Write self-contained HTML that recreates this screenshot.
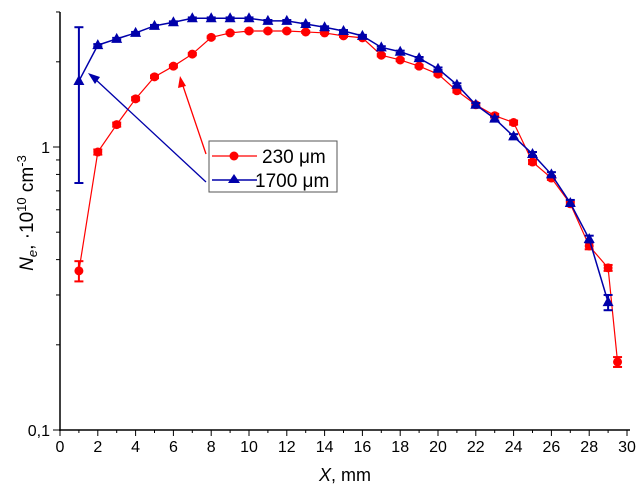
<!DOCTYPE html>
<html><head><meta charset="utf-8"><style>
body{margin:0;background:#fff}
svg{display:block;font-family:"Liberation Sans",Arial,sans-serif}
</style></head><body>
<svg id="chart" width="641" height="491">
<g id="axes"></g>
<g id="series"></g>
<g>
<line x1="206" y1="154" x2="182" y2="83" stroke="#f00" stroke-width="1.3"/>
<polygon points="180,76 178,88 186,86" fill="#f00"/>
<line x1="206" y1="182" x2="94" y2="78" stroke="#00a" stroke-width="1.3"/>
<polygon points="88,73 95,84 100,77" fill="#00a"/>
</g>
<g>
<rect x="209" y="141" width="128" height="51" fill="#fff" stroke="#555" stroke-width="1"/>
<line x1="212" y1="156" x2="257" y2="156" stroke="#f00" stroke-width="1.3"/>
<circle cx="234" cy="156" r="4.5" fill="#f00"/>
<text x="262" y="163" font-size="19">230 μm</text>
<line x1="212" y1="180" x2="257" y2="180" stroke="#00a" stroke-width="1.5"/>
<polygon points="234,174 228,183 240,183" fill="#00a"/>
<text x="255" y="187" font-size="19">1700 μm</text>
</g>
<text x="345" y="481" font-size="18" text-anchor="middle"><tspan font-style="italic">X</tspan>, mm</text>
<text transform="translate(33,213) rotate(-90)" font-size="19" text-anchor="middle"><tspan font-style="italic">N</tspan><tspan font-size="13" dy="4" font-style="italic">e</tspan><tspan dy="-4">, ·10</tspan><tspan font-size="13" dy="-7">10</tspan><tspan dy="7"> cm</tspan><tspan font-size="13" dy="-7">-3</tspan></text>
</svg>
<script>
const redX=[1,2,3,4,5,6,7,8,9,10,11,12,13,14,15,16,17,18,19,20,21,22,23,24,25,26,27,28,29,29.5];
const redY=[0.365,0.96,1.20,1.48,1.77,1.93,2.13,2.44,2.53,2.57,2.57,2.57,2.55,2.53,2.47,2.43,2.11,2.03,1.93,1.81,1.58,1.41,1.29,1.22,0.885,0.777,0.63,0.447,0.374,0.174];
const blueX=[1,2,3,4,5,6,7,8,9,10,11,12,13,14,15,16,17,18,19,20,21,22,23,24,25,26,27,28,29];
const blueY=[1.71,2.29,2.41,2.53,2.68,2.76,2.85,2.85,2.85,2.85,2.79,2.79,2.72,2.65,2.57,2.47,2.25,2.17,2.06,1.89,1.66,1.41,1.26,1.09,0.945,0.80,0.634,0.473,0.283];
const redErrLo=[0.335,0.94,1.18,1.46,1.75,1.91,2.11,2.42,2.51,2.55,2.55,2.55,2.53,2.51,2.45,2.41,2.09,2.01,1.91,1.79,1.56,1.39,1.27,1.20,0.87,0.765,0.62,0.435,0.365,0.167];
const redErrHi=[0.395,0.98,1.22,1.50,1.79,1.95,2.15,2.46,2.55,2.59,2.59,2.59,2.57,2.55,2.49,2.45,2.13,2.05,1.95,1.83,1.60,1.43,1.31,1.24,0.90,0.79,0.64,0.46,0.383,0.181];
const blueErrLo=[0.746,2.27,2.39,2.51,2.66,2.74,2.83,2.83,2.83,2.83,2.77,2.77,2.70,2.63,2.55,2.45,2.23,2.15,2.04,1.87,1.64,1.39,1.24,1.07,0.93,0.785,0.62,0.46,0.265];
const blueErrHi=[2.65,2.31,2.43,2.55,2.70,2.78,2.87,2.87,2.87,2.87,2.81,2.81,2.74,2.67,2.59,2.49,2.27,2.19,2.08,1.91,1.68,1.43,1.28,1.11,0.96,0.815,0.65,0.486,0.30];
const xTicks=[0,2,4,6,8,10,12,14,16,18,20,22,24,26,28,30];
const yTickVals=[0.1,1];
const yTickLabels=["0,1","1"];
const X0=60,X1=627,YT=12,YB=430;
const sx=v=>X0+(v/30)*(X1-X0);
const sy=v=>147-283*Math.log10(v);
const NS="http://www.w3.org/2000/svg";
function mk(tag,attrs,parent){const e=document.createElementNS(NS,tag);for(const k in attrs)e.setAttribute(k,attrs[k]);parent.appendChild(e);return e;}
const ax=document.getElementById('axes'),sr=document.getElementById('series');
let l=mk('line',{x1:X0,y1:YT,x2:X0,y2:YB+1,stroke:'#000','stroke-width':1.5},ax);


l=mk('line',{x1:X0-1,y1:YB,x2:X1+3,y2:YB,stroke:'#000','stroke-width':1.5},ax);


for(let i=0;i<=30;i++){mk('line',{x1:sx(i),y1:YB,x2:sx(i),y2:YB+(i%2?3:6),stroke:'#000','stroke-width':1},ax);}
xTicks.forEach(t=>{const e=mk('text',{x:sx(t),y:YB+22,'font-size':16,'text-anchor':'middle'},ax);e.textContent=t;

});
yTickVals.forEach((v,i)=>{mk('line',{x1:X0-7,y1:sy(v),x2:X0,y2:sy(v),stroke:'#000','stroke-width':1},ax);
const e=mk('text',{x:X0-10,y:sy(v)+6,'font-size':16,'text-anchor':'end'},ax);e.textContent=yTickLabels[i];

});
[0.2,0.3,0.4,0.5,0.6,0.7,0.8,0.9,2,3].forEach(v=>mk('line',{x1:X0-4,y1:sy(v),x2:X0,y2:sy(v),stroke:'#000','stroke-width':1},ax));
function draw(xs,ys,lo,hi,col,w,tri,name){
const p=mk('polyline',{points:xs.map((x,i)=>sx(x)+','+sy(ys[i])).join(' '),fill:'none',stroke:col,'stroke-width':w},sr);


xs.forEach((x,i)=>{const cx=sx(x);
const a=sy(hi[i]),b=sy(lo[i]);
mk('line',{x1:cx,y1:a,x2:cx,y2:b,stroke:col,'stroke-width':2},sr);
mk('line',{x1:cx-4.5,y1:a,x2:cx+4.5,y2:a,stroke:col,'stroke-width':2},sr);
mk('line',{x1:cx-4.5,y1:b,x2:cx+4.5,y2:b,stroke:col,'stroke-width':2},sr);
const cy=sy(ys[i]);let m;
if(tri)m=mk('polygon',{points:`${cx},${cy-6} ${cx-5.5},${cy+4} ${cx+5.5},${cy+4}`,fill:col},sr);
else m=mk('circle',{cx:cx,cy:cy,r:4.5,fill:col},sr);

});}
draw(redX,redY,redErrLo,redErrHi,'#f00',1.2,false,'series-230');
draw(blueX,blueY,blueErrLo,blueErrHi,'#00a',1.5,true,'series-1700');
</script>
</body></html>
